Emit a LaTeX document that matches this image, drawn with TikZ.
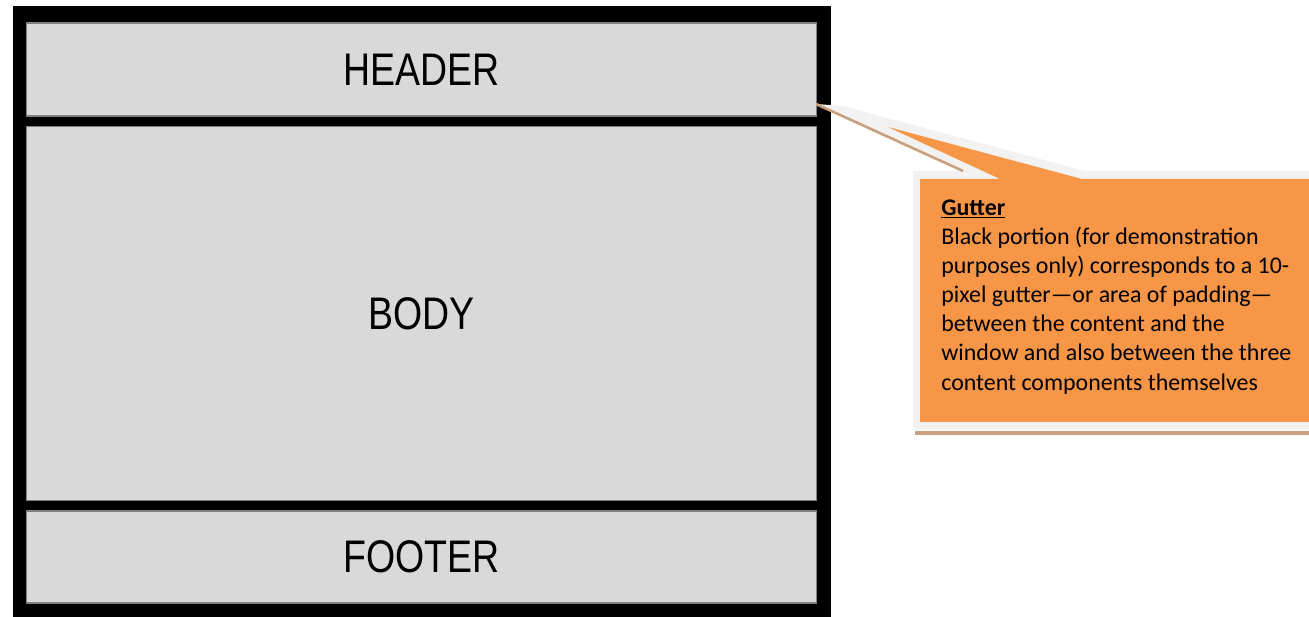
\documentclass[tikz,border=0pt]{standalone}
\usepackage{fontspec}
\setmainfont{Carlito}
\newfontfamily\panelfont[FakeStretch=0.82]{Liberation Sans}
\definecolor{panelgray}{HTML}{D9D9D9}
\definecolor{panelline}{HTML}{808080}
\definecolor{noteorange}{HTML}{F79646}
\definecolor{noteedge}{HTML}{F2F2F2}
\definecolor{notetan}{RGB}{200,160,125}
\tikzset{
  panel/.style={draw=panelline, fill=panelgray, line width=0.6pt, minimum width=15.82cm, inner sep=0pt, font=\panelfont\fontsize{26}{30}\selectfont},
}
\begin{document}
\begin{tikzpicture}[x=0.02cm, y=-0.02cm]
    \useasboundingbox (0,0) rectangle (1309,617);
    % window with 10-pixel gutter
    \fill[black] (13,6) rectangle (831,617);
    \node(header) [panel, minimum height=1.86cm] at (421.5,69.5) {HEADER};
    \node(body) [panel, minimum height=7.5cm] at (421.5,313.5) {BODY};
    \node(footer) [panel, minimum height=1.84cm] at (421.5,557) {FOOTER};
    % callout
    \fill[noteedge] (816,104) -- (843,106) -- (1085,171) -- (1309,171) -- (1309,430) -- (913,430) -- (913,171) -- (963,171) -- cycle;
    \draw[notetan, line width=1.5pt] (816,104) -- (963,171);
    \draw[notetan, line width=2pt] (915,433) -- (1309,433);
    \fill[noteorange] (920,179) -- (1000,179) -- (888,127) -- (1082,179) -- (1309,179) -- (1309,422) -- (920,422) -- cycle;
    \node(note) [anchor=north west, inner sep=0pt, align=left, font=\fontsize{13.6}{16.6}\selectfont] at (941,199) {\textbf{\underline{Gutter}}\\
        Black portion (for demonstration\\
        purposes only) corresponds to a 10-\\
        pixel gutter—or area of padding—\\
        between the content and the\\
        window and also between the three\\
        content components themselves};
\end{tikzpicture}
\end{document}
